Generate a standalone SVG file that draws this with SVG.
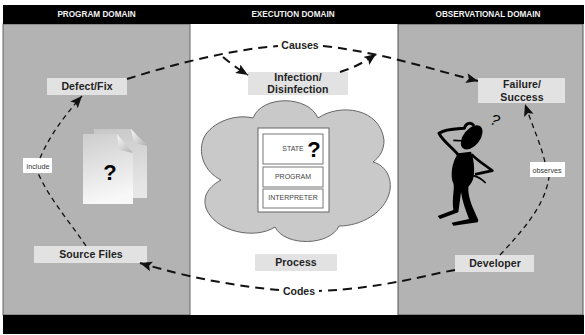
<svg xmlns="http://www.w3.org/2000/svg" width="585" height="335" viewBox="0 0 585 335">
  <style>
    .hdr { font: bold 8.2px "Liberation Sans", Arial, sans-serif; fill: #f2f2f2; text-anchor: middle; }
    .box { fill: #e2e2e2; }
    .lbl { font: bold 10.5px "Liberation Sans", Arial, sans-serif; fill: #222; text-anchor: middle; letter-spacing: .1px; }
    .edge { font: bold 10.5px "Liberation Sans", Arial, sans-serif; fill: #222; text-anchor: middle; }
    .tag { fill: #fff; }
    .small { font: 7.2px "Liberation Sans", Arial, sans-serif; fill: #333; text-anchor: middle; }
    .cell { fill: #fff; stroke: #777; stroke-width: 1; }
    .cellt { font: 7px "Liberation Sans", Arial, sans-serif; fill: #444; text-anchor: middle; }
    .thick { fill: none; stroke: #111; stroke-width: 2; stroke-dasharray: 9 6; }
    .thin { fill: none; stroke: #111; stroke-width: 1.3; stroke-dasharray: 5 4; }
    .q { font-family: "Liberation Sans", Arial, sans-serif; font-weight: bold; fill: #000; text-anchor: middle; }
  </style>
  <defs>
    <marker id="head" markerUnits="userSpaceOnUse" markerWidth="14" markerHeight="12" refX="12" refY="5" orient="auto">
      <path d="M0,0 L12,5 L0,10 L2.5,5 Z" fill="#111"/>
    </marker>
    <linearGradient id="page" x1="0" y1="0" x2="0.2" y2="1">
      <stop offset="0" stop-color="#cdcdcd"/>
      <stop offset="1" stop-color="#f8f8f8"/>
    </linearGradient>
    <linearGradient id="fold" x1="0" y1="0" x2="1" y2="1">
      <stop offset="0" stop-color="#fafafa"/>
      <stop offset="1" stop-color="#b0b0b0"/>
    </linearGradient>
  </defs>

  <!-- domain panels -->
  <g id="panels">
    <rect x="3" y="5" width="581" height="329" fill="#fff"/>
    <rect x="3" y="24" width="187" height="291" fill="#b3b3b3" stroke="#666" stroke-width="1"/>
    <rect x="398" y="24" width="185" height="291" fill="#b3b3b3" stroke="#555" stroke-width="1"/>
    <rect x="3" y="5" width="581" height="19" fill="#000"/>
    <rect x="3" y="315" width="581" height="19" fill="#000"/>
    <text class="hdr" x="96.5" y="17">PROGRAM DOMAIN</text>
    <text class="hdr" x="293" y="17">EXECUTION DOMAIN</text>
    <text class="hdr" x="488" y="17">OBSERVATIONAL DOMAIN</text>
  </g>

  <!-- process cloud and its memory stack -->
  <g id="process-cloud">
    <path d="M253,118 C262,95 308,95 318,118 C340,103 380,108 384,140 C384,150 380,157 373,162 C388,166 393,182 389,194 C384,212 362,226 339,226 C330,246 285,247 275,227 C255,240 215,232 206,208 C202,195 210,186 221,180 C205,172 198,155 203,140 C208,125 232,113 253,118 Z" fill="#c9c9c9" stroke="#666" stroke-width="1"/>
    <rect x="258" y="128" width="71" height="84" fill="#fff" stroke="#666" stroke-width="1"/>
    <rect class="cell" x="263" y="134" width="60" height="30"/>
    <rect class="cell" x="263" y="167" width="60" height="20"/>
    <rect class="cell" x="263" y="189" width="60" height="19"/>
    <text class="cellt" x="293" y="151">STATE</text>
    <text class="q" x="314" y="157" font-size="22">?</text>
    <text class="cellt" x="293" y="179">PROGRAM</text>
    <text class="cellt" x="293" y="200">INTERPRETER</text>
  </g>

  <!-- source documents -->
  <g id="documents">
    <path d="M94,129 L131,129 L147,146 L147,198 L94,198 Z" fill="url(#page)" opacity=".75"/>
    <path d="M131,129 L147,146 L134,143 Z" fill="url(#fold)"/>
    <path d="M83,134 L117,134 L133,153 L133,204 L83,204 Z" fill="url(#page)"/>
    <path d="M117,134 L133,153 L119,150 Z" fill="url(#fold)"/>
    <text class="q" x="110" y="180" font-size="22">?</text>
  </g>

  <!-- developer figure -->
  <g id="developer-figure" transform="translate(425 105) scale(.3333)">
    <ellipse cx="140" cy="97" rx="25" ry="42" transform="rotate(38 140 97)" fill="#000"/>
    <path d="M100,150 C80,125 55,110 42,85 C60,72 90,72 118,70 C122,55 135,50 145,60" fill="none" stroke="#000" stroke-width="9" stroke-linejoin="round" stroke-linecap="round"/>
    <path d="M85,106 L125,108" stroke="#000" stroke-width="5"/>
    <path d="M100,145 L138,140 C146,160 150,190 146,215 C142,232 136,238 130,245 C128,280 145,310 160,345 L158,352 L85,362 L80,353 L132,342 C122,315 112,290 108,262 C105,285 102,310 100,322 L45,342 L38,333 L85,315 C80,280 90,250 85,235 C75,215 80,170 100,145 Z" fill="#000"/>
    <path d="M140,148 C155,165 180,180 202,197 L150,208" fill="none" stroke="#000" stroke-width="8" stroke-linejoin="round"/>
    <path d="M145,212 C160,215 170,222 182,234" fill="none" stroke="#000" stroke-width="5"/>
    <text x="206" y="60" transform="rotate(18 206 60)" font-family="Liberation Sans, Arial, sans-serif" font-style="italic" font-size="46" fill="#000" text-anchor="middle">?</text>
  </g>

  <!-- nodes -->
  <g id="defect-fix">
    <rect class="box" x="47" y="78" width="80" height="17"/>
    <text class="lbl" x="87" y="90">Defect/Fix</text>
  </g>
  <g id="source-files">
    <rect class="box" x="34" y="246" width="113" height="17"/>
    <text class="lbl" x="91" y="258">Source Files</text>
  </g>
  <g id="infection">
    <rect class="box" x="248" y="72" width="100" height="23"/>
    <text class="lbl" x="298" y="81">Infection/</text>
    <text class="lbl" x="298" y="93">Disinfection</text>
  </g>
  <g id="process">
    <rect class="box" x="255" y="254" width="82" height="17"/>
    <text class="lbl" x="296" y="266">Process</text>
  </g>
  <g id="failure">
    <rect class="box" x="478" y="78" width="87" height="25"/>
    <text class="lbl" x="522" y="88">Failure/</text>
    <text class="lbl" x="522" y="101">Success</text>
  </g>
  <g id="developer">
    <rect class="box" x="455" y="255" width="79" height="17"/>
    <text class="lbl" x="495" y="267">Developer</text>
  </g>
  <g id="include">
    <rect class="tag" x="23" y="158" width="29" height="15"/>
    <text class="small" x="38" y="169">include</text>
  </g>
  <g id="observes">
    <rect class="tag" x="530" y="162" width="35" height="15"/>
    <text class="small" x="547" y="173">observes</text>
  </g>

  <!-- connectors -->
  <g id="connectors">
    <path class="thick" d="M127,79 C175,64 228,50 278,46"/>
    <path class="thick" d="M323,46 C380,52 430,69 478,81" marker-end="url(#head)"/>
    <path class="thick" d="M223,57 C230,63 238,69 248,75" marker-end="url(#head)" stroke-dasharray="7 4"/>
    <path class="thick" d="M340,72 C353,68 365,62 376,54" marker-end="url(#head)"/>
    <path class="thick" d="M455,270 C425,275 385,288 319,291"/>
    <path class="thick" d="M279,290 C235,286 190,278 140,263" marker-end="url(#head)"/>
    <path class="thin" d="M86,246 C70,222 50,200 38,173"/>
    <path class="thin" d="M40,158 C50,135 65,115 82,96" marker-end="url(#head)"/>
    <path class="thin" d="M500,255 C525,228 545,205 549,177"/>
    <path class="thin" d="M545,162 C540,142 532,125 525,104" marker-end="url(#head)"/>
    <text class="edge" x="300" y="49">Causes</text>
    <text class="edge" x="299" y="295">Codes</text>
  </g>
</svg>
